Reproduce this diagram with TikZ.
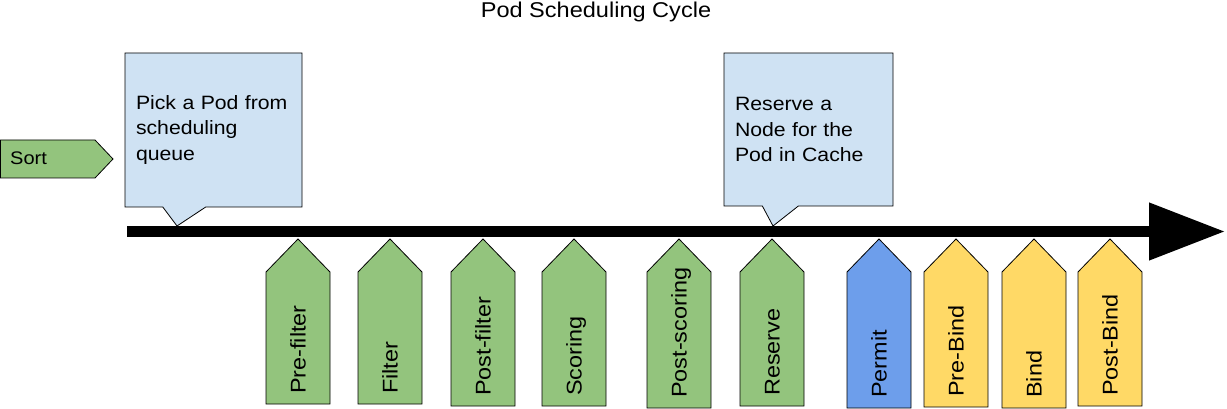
\documentclass[tikz,border=0pt]{standalone}
\usepackage{fontspec}
\setmainfont{Liberation Sans}[FakeStretch=1.1]
\usetikzlibrary{shapes.callouts,arrows.meta}
\definecolor{tabgreen}{HTML}{93C47D}
\definecolor{tabblue}{HTML}{6D9EEB}
\definecolor{tabyellow}{HTML}{FFD966}
\definecolor{noteblue}{HTML}{CFE2F3}
\tikzset{
    tabshape/.style={draw=black, line width=0.8pt, line join=miter},
    tablabel/.style={rotate=90, anchor=base west, inner sep=0pt,
        font=\fontsize{21.3}{25}\selectfont},
    note/.style={rectangle callout, draw=black, line width=0.8pt,
        fill=noteblue, align=left, inner xsep=11pt,
        font=\fontsize{19.3}{25.7}\selectfont},
    timeline/.style={line width=11pt,
        -{Triangle[length=76pt, width=55pt]}}
}
\begin{document}
\begin{tikzpicture}[x=1pt, y=-1pt]
\useasboundingbox (0,0) rectangle (1227,409);
\node[anchor=base, font=\fontsize{21.4}{25}\selectfont] (title) at (596,18) {Pod Scheduling Cycle};

% sort step, left of the cycle
\draw[tabshape, fill=tabgreen] (0.5,140) -- (95,140) -- (113,159) -- (95,178) -- (0.5,178) -- cycle;
\node[anchor=base west, inner sep=0pt, font=\fontsize{18.2}{22}\selectfont] (sort) at (10,165) {Sort};

% the cycle
\coordinate (start) at (127,231.5);
\coordinate (end) at (1225,231.5);
\draw[timeline] (start) -- (end);

\coordinate (pin1) at (177,226);
\coordinate (pin2) at (773,226);
\node[note, minimum width=177pt, minimum height=154pt, text width=155pt,
    callout absolute pointer=(pin1), callout pointer width=43pt] (pick) at (213.5,130)
    {Pick a Pod from\\scheduling\\queue};
\node[note, minimum width=169pt, minimum height=153pt, text width=147pt,
    callout absolute pointer=(pin2), callout pointer width=36pt] (cache) at (808.5,129.5)
    {Reserve a\\Node for the\\Pod in Cache};

% extension points
\foreach\x/\b/\name/\txt/\col in{
    266/404/prefilter/Pre-filter/tabgreen,
    358/404/filter/Filter/tabgreen,
    451/406/postfilter/Post-filter/tabgreen,
    542/406/scoring/Scoring/tabgreen,
    647/408/postscoring/Post-scoring/tabgreen,
    740/406/reserve/Reserve/tabgreen,
    847/408/permit/Permit/tabblue,
    924/407/prebind/Pre-Bind/tabyellow,
    1002/408/bind/Bind/tabyellow,
    1078/406/postbind/Post-Bind/tabyellow}{
    \draw[tabshape, fill=\col] (\x,\b) -- (\x,272) -- (\x+32,239) -- (\x+64,272) -- (\x+64,\b) -- cycle;
    \node[tablabel] (\name) at (\x+39.5,\b-10) {\txt};
}
\end{tikzpicture}
\end{document}
